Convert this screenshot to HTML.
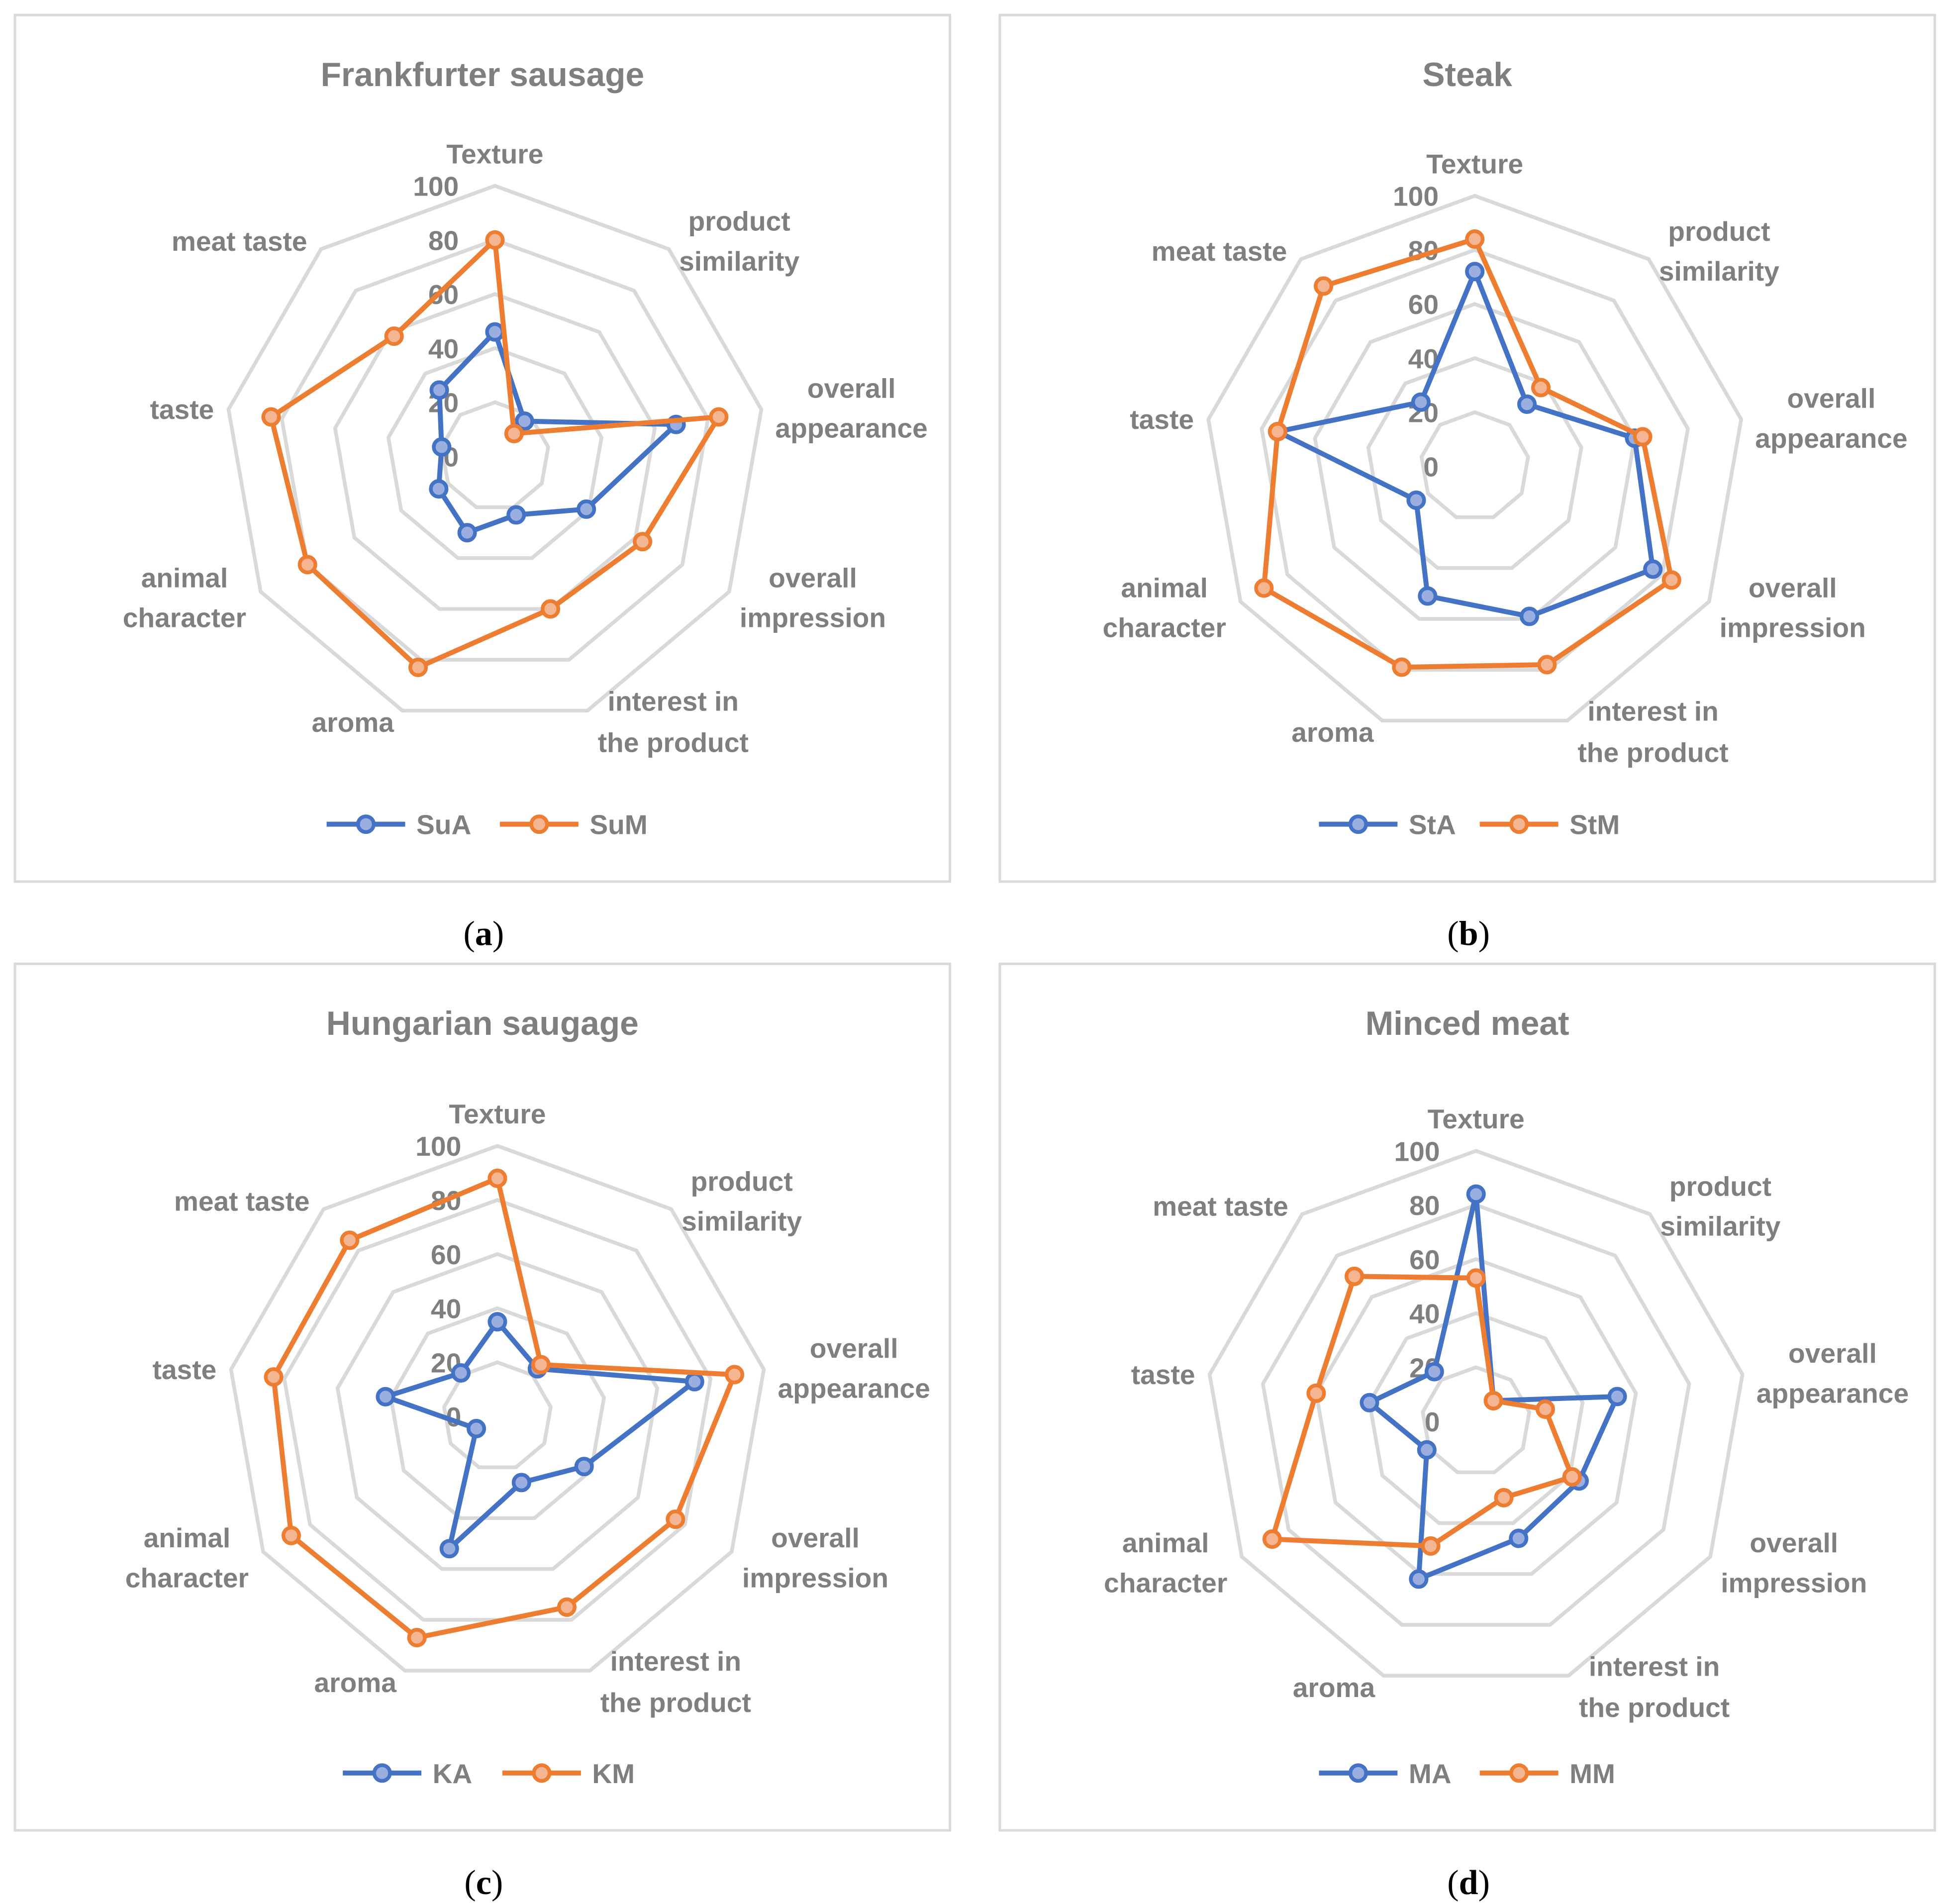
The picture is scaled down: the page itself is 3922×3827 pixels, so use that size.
<!DOCTYPE html>
<html><head><meta charset="utf-8"><style>
html,body{margin:0;padding:0;background:#fff}
svg{display:block}
text{font-family:"Liberation Sans",sans-serif}
</style></head><body>
<svg id="fig" width="3922" height="3827" viewBox="0 0 1565 1527" xmlns="http://www.w3.org/2000/svg"></svg>
<script>
const categories = ["Texture","product similarity","overall appearance","overall impression","interest in the product","aroma","animal character","taste","meat taste"];
const ticks = [0,20,40,60,80,100];
const titles = ["Frankfurter sausage","Steak","Hungarian saugage","Minced meat"];
const captions = ["a","b","c","d"];
const seriesNamesA = ["SuA","SuM"];
const seriesNamesB = ["StA","StM"];
const seriesNamesC = ["KA","KM"];
const seriesNamesD = ["MA","MM"];
const SuA = [46,17,68,39,23,30,24,20,32];
const SuM = [80,11,84,63,60,83,80,84,58];
const StA = [72,30,60,76,59,51,25,74,31];
const StM = [84,38,63,84,78,79,90,74,87];
const KA = [35,23,74,37,26,52,9,42,21];
const KM = [88,25,89,76,75,87,88,84,85];
const MA = [84,10,53,44,46,62,21,40,24];
const MM = [53,10,26,41,30,49,87,60,70];

const NS="http://www.w3.org/2000/svg";
const svg=document.getElementById('fig');
function mk(tag,attrs,parent){const e=document.createElementNS(NS,tag);for(const k in attrs)e.setAttribute(k,attrs[k]);(parent||svg).appendChild(e);return e;}
const R=217;
const labelOffsets=[[[0,-242]],[[196,-188],[196,-156]],[[286,-54],[286,-22]],[[255,98],[255,130]],[[143,197],[143,230]],[[-114,214]],[[-249,98],[-249,130]],[[-251,-37]],[[-205,-172]]];
const labelLines=[["Texture"],["product","similarity"],["overall","appearance"],["overall","impression"],["interest in","the product"],["aroma"],["animal","character"],["taste"],["meat taste"]];
const panels=[
 {box:[12,12],c:[397,366],names:seriesNamesA,data:[SuA,SuM],leg:[262,401]},
 {box:[802,12],c:[1183,374],names:seriesNamesB,data:[StA,StM],leg:[1058,1187]},
 {box:[12,773],c:[399,1136],names:seriesNamesC,data:[KA,KM],leg:[275,403]},
 {box:[802,773],c:[1184,1140],names:seriesNamesD,data:[MA,MM],leg:[1058,1187]}
];
const colors=[["#4472c4","#9aafdf"],["#ed7d31","#f4b593"]];
function pt(c,i,v){const a=i*2*Math.PI/categories.length;const r=v/100*R;return [c[0]+r*Math.sin(a),c[1]-r*Math.cos(a)];}
panels.forEach((p,pi)=>{
 const g=mk('g',{});
 
 
 const box=mk('rect',{x:p.box[0],y:p.box[1],width:750,height:695,fill:'#fff',stroke:'#d9d9d9','stroke-width':2},g);
 
 
 const t=mk('text',{x:p.box[0]+375,y:p.box[1]+57,'text-anchor':'middle','font-size':27,'font-weight':'bold',fill:'#7f7f7f'},g);
 t.textContent=titles[pi];
 
 
 ticks.slice(1).forEach(tv=>{
  const pts=categories.map((_,i)=>pt(p.c,i,tv).join(',')).join(' ');
  const ring=mk('polygon',{points:pts,fill:'none',stroke:'#d9d9d9','stroke-width':3},g);
  
  
 });
 ticks.forEach(tv=>{
  const tl=mk('text',{x:p.c[0]-29,y:p.c[1]-tv/100*R+8,'text-anchor':'end','font-size':22,'font-weight':'bold',fill:'#7f7f7f'},g);
  tl.textContent=tv;
  
  
 });
 categories.forEach((cat,i)=>{
  labelLines[i].forEach((ln,li)=>{
   const o=labelOffsets[i][li];
   const tx=mk('text',{x:p.c[0]+o[0],y:p.c[1]+o[1]+7,'text-anchor':'middle','font-size':22,'font-weight':'bold',fill:'#7f7f7f'},g);
   tx.textContent=ln;
   
   
  });
 });
 p.data.forEach((vals,si)=>{
  const pts=vals.map((v,i)=>pt(p.c,i,v));
  const poly=mk('polygon',{points:pts.map(q=>q.join(',')).join(' '),fill:'none',stroke:colors[si][0],'stroke-width':4,'stroke-linejoin':'round'},g);
  
  
  pts.forEach(q=>{
   const m=mk('circle',{cx:q[0],cy:q[1],r:6.3,fill:colors[si][1],stroke:colors[si][0],'stroke-width':3},g);
   
   
  });
  const lx=p.leg[si], ly=p.box[1]+649;
  const lg=mk('g',{},g);
  
  
  mk('line',{x1:lx,y1:ly,x2:lx+63,y2:ly,stroke:colors[si][0],'stroke-width':4},lg);
  mk('circle',{cx:lx+31.5,cy:ly,r:6.3,fill:colors[si][1],stroke:colors[si][0],'stroke-width':3},lg);
  const lt=mk('text',{x:lx+72,y:ly+8,'font-size':22,'font-weight':'bold',fill:'#7f7f7f'},lg);
  lt.textContent=p.names[si];
 });
 const cap=mk('text',{x:p.box[0]+376,y:p.box[1]+746,'text-anchor':'middle','font-size':28,fill:'#000'},g);
 cap.style.fontFamily='"Liberation Serif",serif';
 
 
 const s1=mk('tspan',{},cap); s1.textContent='(';
 const s2=mk('tspan',{'font-weight':'bold'},cap); s2.textContent=captions[pi];
 const s3=mk('tspan',{},cap); s3.textContent=')';
});
</script>
</body></html>
